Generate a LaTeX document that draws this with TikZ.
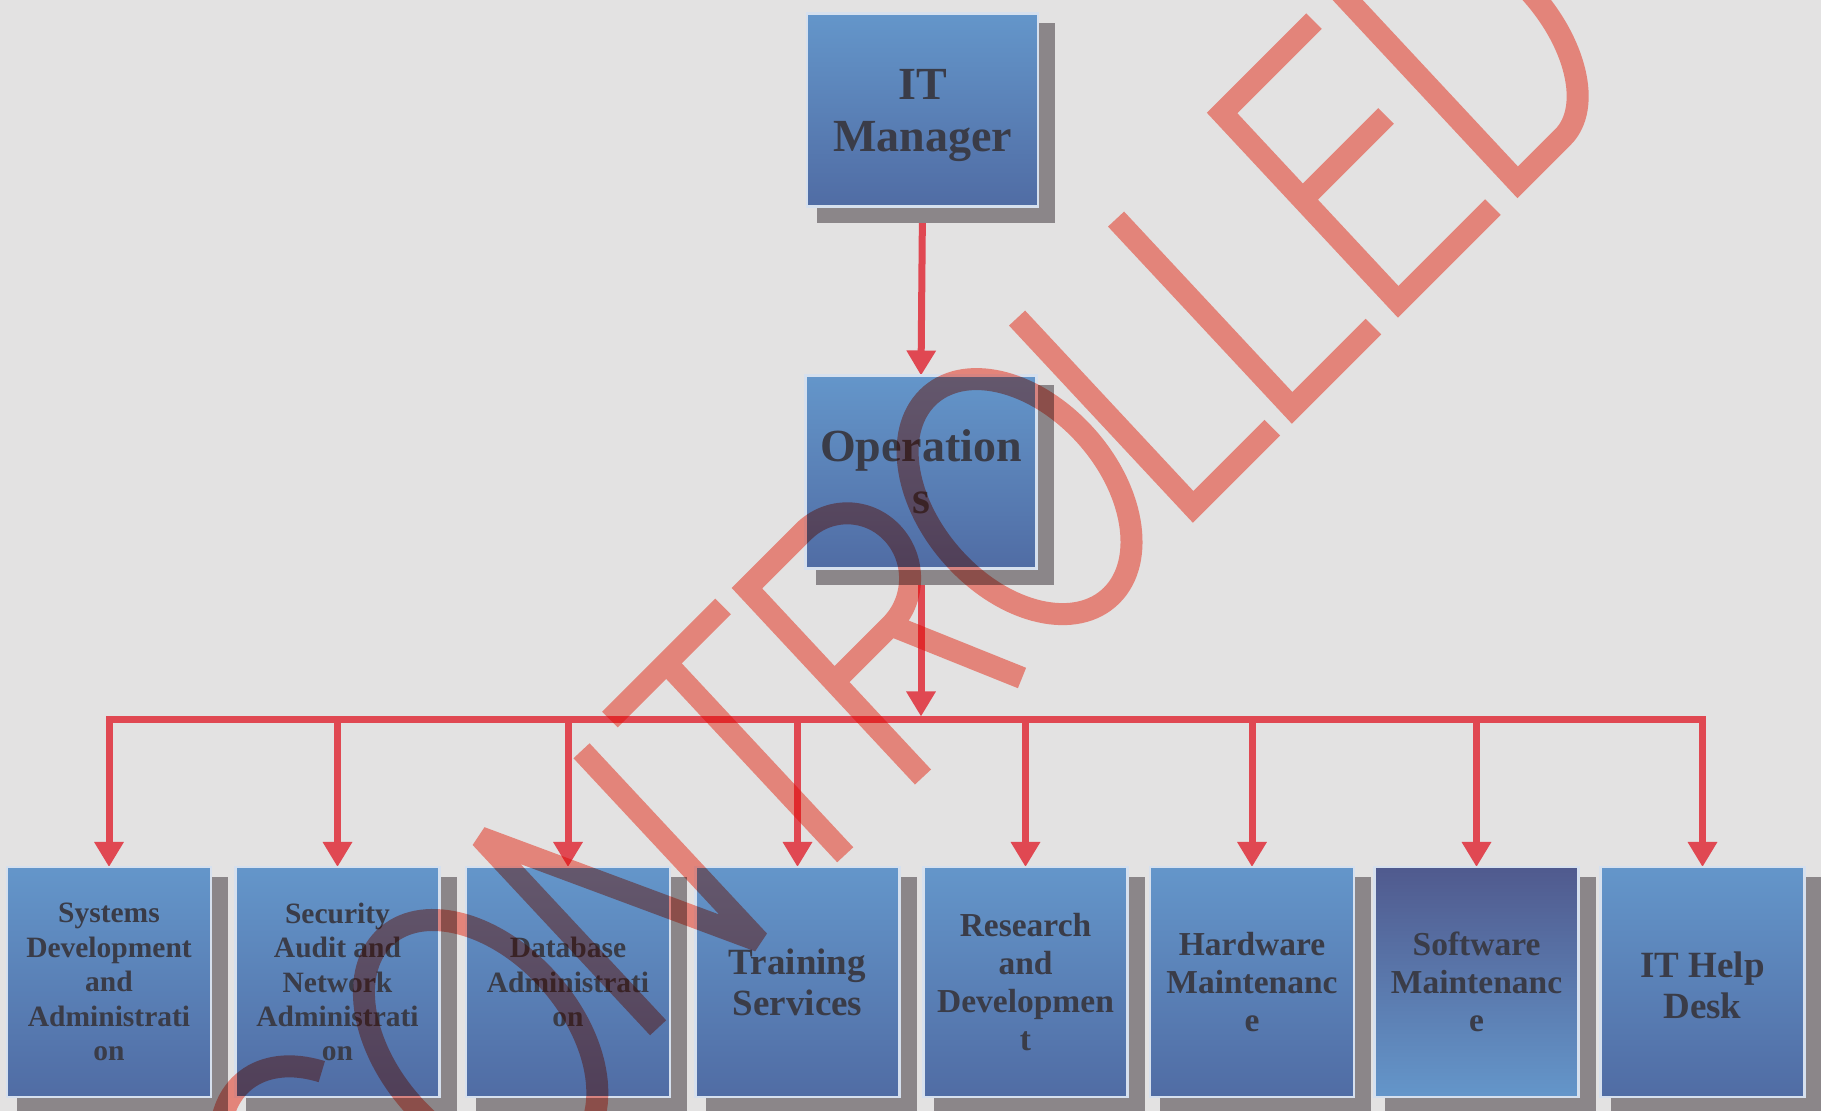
\documentclass[tikz,border=0pt]{standalone}
\usepackage{fontspec}
\setmainfont{Liberation Serif}
\usetikzlibrary{arrows.meta,calc}
\definecolor{paper}{RGB}{227,226,226}
\definecolor{boxtop}{RGB}{100,150,202}
\definecolor{boxbot}{RGB}{80,108,164}
\definecolor{boxdark}{RGB}{80,90,142}
\definecolor{shade}{RGB}{139,134,137}
\definecolor{arrowred}{RGB}{224,72,82}
\definecolor{txt}{RGB}{58,60,72}
\definecolor{rim}{RGB}{214,224,238}
\definecolor{stamp}{RGB}{255,150,138}
\pgfdeclarelayer{back}\pgfdeclarelayer{shadowl}\pgfdeclarelayer{front}
\pgfsetlayers{back,shadowl,main,front}
\tikzset{
  orgbox/.style={rectangle, draw=rim, line width=1.2pt, top color=boxtop, bottom color=boxbot,
    text=txt, align=center, inner sep=2pt, outer sep=0pt},
  topbox/.style={orgbox, minimum width=115.5pt, minimum height=96.5pt,
    font=\bfseries\fontsize{23}{26}\selectfont},
  lowbox/.style={orgbox, minimum width=102pt, minimum height=115pt},
  fsmall/.style={font=\bfseries\fontsize{14.75}{17.2}\selectfont},
  fmid/.style={font=\bfseries\fontsize{16.75}{19}\selectfont},
  fbig/.style={font=\bfseries\fontsize{18.5}{20.5}\selectfont},
  conn/.style={draw=arrowred, line width=3.5pt, -{Triangle[width=14pt,length=12.5pt]}},
  busline/.style={draw=arrowred, line width=3.5pt, line cap=rect},
  shadowbox/.style={fill=shade}
}
\newcommand\dropshade[1]{\fill[shadowbox] ([shift={(10,10)}]#1.north west) rectangle ([shift={(17,17)}]#1.south east);}
\begin{document}
\begin{tikzpicture}[x=0.5pt,y=-0.5pt]
\useasboundingbox (0,0) rectangle (1821,1111);
\begin{pgfonlayer}{back}
  \fill[paper] (0,0) rectangle (1821,1111);
\end{pgfonlayer}

% nodes
\node[topbox] (mgr) at (922.5,110) {\rule{0pt}{21pt}IT\\Manager};
\node[topbox] (ops) at (921,472) {Operation\\s};

\node[lowbox,fsmall] (b1) at (109,982) {Systems\\Development\\and\\Administrati\\on};
\node[lowbox,fsmall] (b2) at (337.5,982) {Security\\Audit and\\Network\\Administrati\\on};
\node[lowbox,fsmall] (b3) at (568,982) {Database\\Administrati\\on};
\node[lowbox,fbig]   (b4) at (797.5,982) {Training\\Services};
\node[lowbox,fmid]   (b5) at (1025.5,982) {Research\\and\\Developmen\\t};
\node[lowbox,fmid]   (b6) at (1252,982) {Hardware\\Maintenanc\\e};
\node[lowbox,fmid, top color=boxdark, bottom color=boxtop] (b7) at (1476.5,982) {Software\\Maintenanc\\e};
\node[lowbox,fbig]   (b8) at (1702.5,982) {\rule{0pt}{16pt}IT Help\\Desk};

\begin{pgfonlayer}{shadowl}
  \dropshade{mgr}\dropshade{ops}
  \foreach \n in {b1,b2,b3,b4,b5,b6,b7,b8} {\dropshade{\n}}
\end{pgfonlayer}

% connectors
\coordinate (busL) at ($(b1.north)+(0,-147)$);
\coordinate (busR) at (b8.north |- busL);
\coordinate (hub) at (ops.south |- busL);
\begin{pgfonlayer}{back}
  \draw[conn] (mgr.south) -- (ops.north);
  \draw[conn, shorten >=1.75pt] (ops.south) -- (hub);
  \draw[busline] (busL) -- (busR);
  \foreach \n in {b1,b2,b3,b4,b5,b6,b7,b8} {\draw[conn] (\n.north |- busL) -- (\n.north);}
\end{pgfonlayer}

% stamp
\begin{pgfonlayer}{front}
\begin{scope}[shift={(461.5pt,-388.5pt)}, x={(0.35355pt,0.35355pt)}, y={(-0.34118pt,0.36592pt)},
  blend mode=multiply]
  \draw[stamp, line width=11pt, miter limit=3]
    % C
    ([shift={(-710,130)}]40:90 and 135) arc[start angle=40, end angle=320, x radius=90, y radius=135]
    % O
    (-505,125) ellipse [x radius=92, y radius=142]
    % N
    (-365,10) -- (-365,270) -- (-232,0) -- (-232,260)
    % T
    (-190,262) -- (-30,262) (-110,262) -- (-110,0)
    % R
    (0,0) -- (0,258) -- (80,258) arc[start angle=90, end angle=-90, x radius=64, y radius=64] -- (0,130)
    (80,130) -- (140,0)
    % O
    (262,130) ellipse [x radius=90, y radius=135]
    % L
    (382,258) -- (382,0) -- (494,0)
    % L
    (522,258) -- (522,0) -- (637,0)
    % E
    (802,258) -- (672,258) -- (672,0) -- (806,0) (672,140) -- (790,140)
    % D
    (841,0) -- (841,258) -- (905,258) arc[start angle=90, end angle=-90, x radius=75, y radius=129] -- cycle;
\end{scope}
\end{pgfonlayer}
\end{tikzpicture}
\end{document}
